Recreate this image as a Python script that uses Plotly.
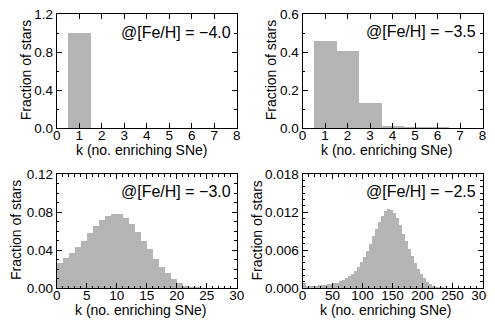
import plotly.graph_objects as go

# ---- data ----
# panel A: [Fe/H] = -4.0 (bins centred on integer k)
k_a = [1, 2, 3, 4, 5, 6, 7, 8]
frac_a = [1.0, 0, 0, 0, 0, 0, 0, 0]

# panel B: [Fe/H] = -3.5
k_b = [1, 2, 3, 4, 5, 6, 7, 8]
frac_b = [0.456, 0.404, 0.133, 0.013, 0.004, 0.002, 0.001, 0.001]

# panel C: [Fe/H] = -3.0 (bins of width 1 starting at k=0)
k_c_lo = list(range(0, 30))
frac_c = [0.0269, 0.0318, 0.0371, 0.0434, 0.0493, 0.0584, 0.0654, 0.0717, 0.0759,
          0.0784, 0.0784, 0.0742, 0.0675, 0.0588, 0.0500, 0.0410, 0.0304, 0.0227,
          0.0157, 0.0098, 0.0052, 0.0021, 0.0010, 0.0005, 0.0003, 0.0002, 0.0001,
          0.00005, 0.00003, 0.00002]

# panel D: [Fe/H] = -2.5 (read in bins of width 5 starting at k=0)
k_d_lo = list(range(0, 300, 5))
frac_d = [0.0009, 0.0004, 0.0004, 0.0004, 0.0004, 0.00045, 0.0005, 0.00055, 0.0006, 0.0007,
          0.0008, 0.0009, 0.0011, 0.0013, 0.0016, 0.0019, 0.0023, 0.0028, 0.0034, 0.0041,
          0.0049, 0.0059, 0.0070, 0.0082, 0.0094, 0.0105, 0.0114, 0.0121, 0.0125, 0.0124,
          0.0119, 0.0110, 0.0099, 0.0086, 0.0074, 0.0062, 0.0051, 0.0040, 0.0031, 0.0023,
          0.0016, 0.0010, 0.0006, 0.0004, 0.0002, 0.0001, 0.00005, 0.00002, 0, 0,
          0, 0, 0, 0, 0, 0, 0, 0, 0, 0]

labels = ["@[Fe/H] = \u22124.0", "@[Fe/H] = \u22123.5", "@[Fe/H] = \u22123.0", "@[Fe/H] = \u22122.5"]
xtitle = "k (no. enriching SNe)"
ytitle = "Fraction of stars"

BAR = "#b4b4b4"
FONT = "Liberation Sans, Arial, Helvetica, sans-serif"

# page body has an 8px default margin; figure sits at (8, 8) in the window
OFF = 8
WIN_W, WIN_H = 495, 327
W, H = WIN_W - OFF, WIN_H - OFF

def fx(px):
    return (px - OFF) / W
def fy(py):
    return (H - (py - OFF)) / H

dom_x_left = [fx(56.7), fx(236.7)]
dom_x_right = [fx(302.5), fx(482.5)]
dom_y_top = [fy(128.3), fy(14)]
dom_y_bot = [fy(288.3), fy(174)]

fig = go.Figure()

fig.add_trace(go.Bar(x=k_a, y=frac_a, width=1, marker=dict(color=BAR, line=dict(width=0)),
                     xaxis="x", yaxis="y", showlegend=False))
fig.add_trace(go.Bar(x=k_b, y=frac_b, width=1, marker=dict(color=BAR, line=dict(width=0)),
                     xaxis="x2", yaxis="y2", showlegend=False))
fig.add_trace(go.Bar(x=[k + 0.5 for k in k_c_lo], y=frac_c, width=1,
                     marker=dict(color=BAR, line=dict(width=0)),
                     xaxis="x3", yaxis="y3", showlegend=False))
fig.add_trace(go.Bar(x=[k + 2.5 for k in k_d_lo], y=frac_d, width=5,
                     marker=dict(color=BAR, line=dict(width=0)),
                     xaxis="x4", yaxis="y4", showlegend=False))

TICKF = dict(size=13.5, color="black", family=FONT)
TITF = dict(size=14, color="black", family=FONT)

def xax(dom, rng, dtick, minor, anchor):
    d = dict(domain=dom, range=rng, dtick=dtick, tick0=0, anchor=anchor, automargin=False,
             showgrid=False, zeroline=False, showline=True, linecolor="black", linewidth=1,
             mirror="allticks", ticks="inside", ticklen=5, tickwidth=1, tickcolor="black",
             tickfont=TICKF, ticklabeloverflow="allow", ticklabelstandoff=-6)
    if minor:
        d["minor"] = dict(dtick=minor, ticks="inside", ticklen=2.5, tickwidth=1, tickcolor="black",
                          showgrid=False)
    return d

def yax(dom, rng, dtick, minor, fmt, anchor):
    return dict(domain=dom, range=rng, dtick=dtick, tick0=0, anchor=anchor, tickformat=fmt,
                automargin=False, ticklabeloverflow="allow",
                showgrid=False, zeroline=False, showline=True, linecolor="black", linewidth=1,
                mirror="allticks", ticks="inside", ticklen=5, tickwidth=1, tickcolor="black",
                tickfont=TICKF,
                minor=dict(dtick=minor, ticks="inside", ticklen=2.5, tickwidth=1, tickcolor="black",
                           showgrid=False))

fig.update_layout(
    width=W, height=H, margin=dict(l=0, r=0, t=0, b=0, autoexpand=False),
    paper_bgcolor="white", plot_bgcolor="white", bargap=0,
    font=dict(family=FONT, color="black"),
    xaxis=xax(dom_x_left, [0, 8], 1, None, "y"),
    yaxis=yax(dom_y_top, [0, 1.2], 0.4, 0.2, ".1f", "x"),
    xaxis2=xax(dom_x_right, [0, 8], 1, None, "y2"),
    yaxis2=yax(dom_y_top, [0, 0.6], 0.2, 0.1, ".1f", "x2"),
    xaxis3=xax(dom_x_left, [0, 30], 5, 1, "y3"),
    yaxis3=yax(dom_y_bot, [0, 0.12], 0.04, 0.01, ".2f", "x3"),
    xaxis4=xax(dom_x_right, [0, 300], 50, 10, "y4"),
    yaxis4=yax(dom_y_bot, [0, 0.018], 0.006, 0.001, ".3f", "x4"),
)

# in-panel labels
ann_pos = [(233, 32.7), (477.5, 31.7), (233.3, 191.7), (478.3, 191.7)]
for (xpix, ypix), txt in zip(ann_pos, labels):
    fig.add_annotation(x=fx(xpix), y=fy(ypix), xref="paper", yref="paper", text=txt,
                       showarrow=False, xanchor="right", yanchor="middle",
                       font=dict(size=16, color="black", family=FONT))

# axis titles (window pixel positions of text centres)
xt_pos = [(141.5, 149.5), (387, 149.5), (141, 310), (386, 310)]
for xpix, ypix in xt_pos:
    fig.add_annotation(x=fx(xpix), y=fy(ypix), xref="paper", yref="paper", text=xtitle,
                       showarrow=False, xanchor="center", yanchor="middle", font=TITF)
yt_pos = [(26.7, 70.5), (271.7, 70.5), (15.5, 230.5), (256, 230.5)]
for xpix, ypix in yt_pos:
    fig.add_annotation(x=fx(xpix), y=fy(ypix), xref="paper", yref="paper", text=ytitle,
                       textangle=-90, showarrow=False, xanchor="center", yanchor="middle",
                       font=TITF)

fig.write_html("out.html")
